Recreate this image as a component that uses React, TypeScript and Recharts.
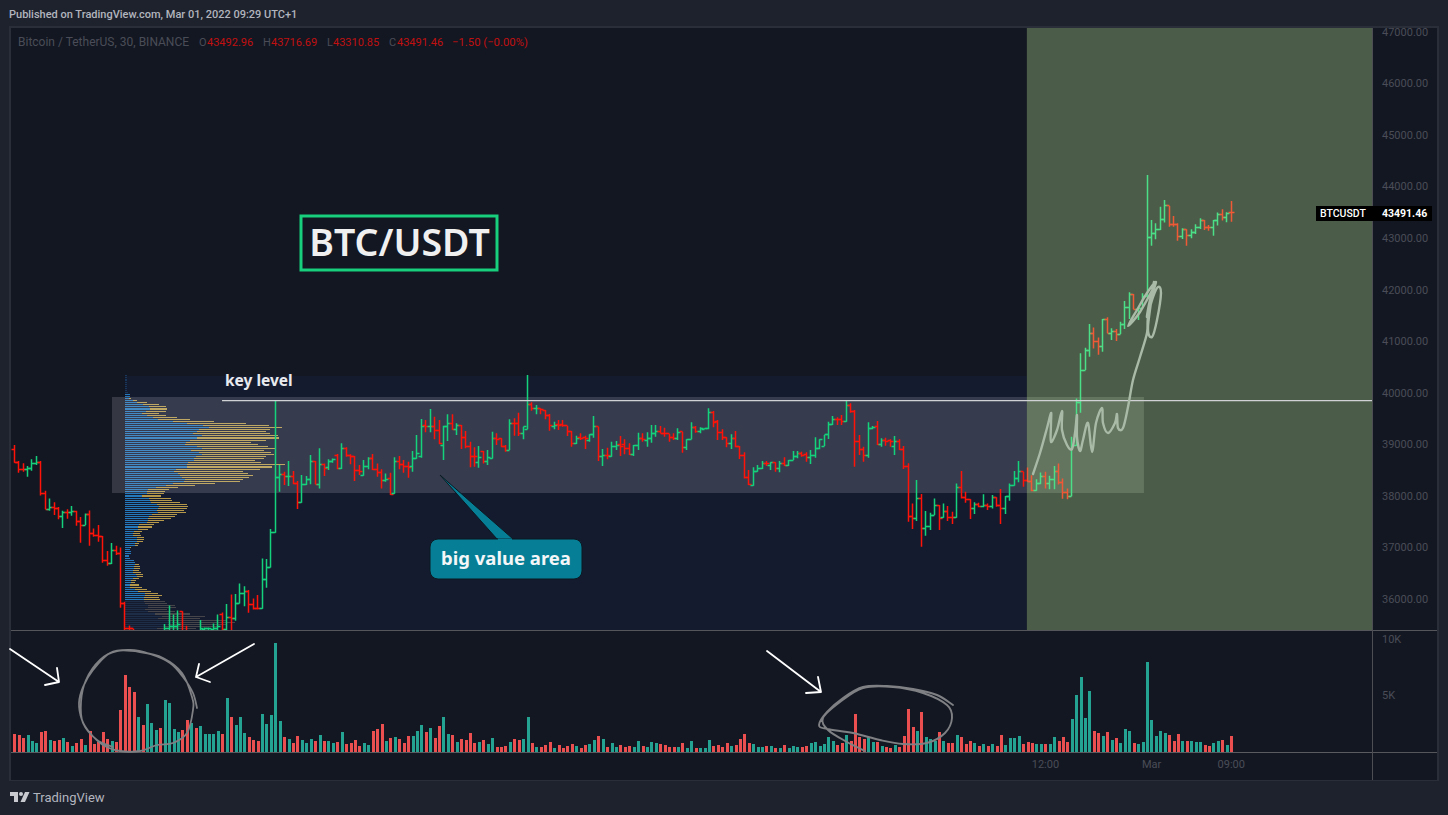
import React from 'react';
import {
  ComposedChart,
  Bar,
  Cell,
  XAxis,
  YAxis,
  ReferenceArea,
  ReferenceLine,
} from 'recharts';

// 30 minute BTCUSDT bars
const opens = [
  38903, 38651, 38515, 38515, 38528, 38632, 38657, 38056, 37739, 37784,
  37752, 37603, 37674, 37674, 37700, 37506, 37435, 37642, 37273, 37228,
  37208, 36742, 36690, 36943, 36885, 35921, 35429, 35420, 35100, 35200,
  35050, 35200, 35300, 35350, 35250, 35420, 35461, 35474, 35752, 35350,
  35300, 35350, 35280, 35405, 35425, 35400, 35430, 35700, 35400, 35642,
  35616, 35914, 36108, 36153, 35895, 35817, 35817, 36386, 36613, 37292,
  38360, 38418, 38373, 38386, 38237, 37868, 38224, 38321, 38677, 38224,
  38612, 38554, 38664, 38793, 38534, 38923, 38793, 38774, 38502, 38405,
  38580, 38728, 38515, 38457, 38295, 38340, 38043, 38664, 38612, 38575,
  38567, 38728, 38761, 39356, 39343, 39343, 39266, 38987, 39343, 39408,
  39291, 39363, 39136, 38961, 38761, 38644, 38858, 38664, 38728, 39104,
  39104, 38955, 38890, 39408, 39408, 39214, 39291, 39764, 39686, 39699,
  39654, 39550, 39343, 39388, 39388, 39356, 39246, 39020, 39129, 39129,
  39084, 39194, 39343, 38761, 38780, 38774, 38968, 39000, 39000, 38923,
  38806, 38987, 39104, 39084, 39117, 39214, 39246, 39214, 39201, 39136,
  39104, 39246, 38942, 39097, 39330, 39246, 39291, 39298, 39621, 39440,
  39233, 39136, 39020, 39117, 38955, 38780, 38353, 38211, 38483, 38535,
  38632, 38599, 38651, 38522, 38632, 38586, 38696, 38761, 38826, 38806,
  38742, 38793, 38923, 38968, 39182, 39376, 39486, 39473, 39440, 39744,
  39628, 39052, 38903, 38793, 39311, 39343, 39000, 39072, 39078, 38968,
  39065, 38903, 38580, 37596, 37564, 37952, 37370, 37402, 37629, 37823,
  37577, 37693, 37583, 37583, 38159, 37972, 37933, 37758, 37842, 37791,
  37810, 37804, 37972, 37810, 37758, 37985, 38198, 38340, 38470, 38306,
  38286, 38105, 38241, 38384, 38241, 38319, 38481, 38254, 38066, 37995,
  38985, 39813, 40441, 40829, 41153, 41004, 40894, 41431, 41153, 41198,
  41140, 41327, 41657, 41897, 41619, 41638, 41864, 43016, 43094, 43158,
  43365, 43624, 43268, 43255, 43029, 43158, 43048, 43107, 43210, 43333,
  43210, 43204, 43333, 43450, 43404, 43492,
];
const highs = [
  38987, 38677, 38632, 38580, 38709, 38774, 38677, 38101, 37952, 37875,
  37784, 37713, 37739, 37803, 37713, 37590, 37661, 37719, 37370, 37435,
  37221, 36930, 37085, 37033, 37001, 35946, 35487, 35420, 35250, 35250,
  35250, 35350, 35380, 35380, 35513, 35875, 35701, 35778, 35765, 35481,
  35390, 35380, 35591, 35448, 35448, 35526, 35701, 35739, 35901, 36089,
  36095, 36302, 36250, 36173, 36011, 36076, 36788, 36775, 37357, 39841,
  38599, 38470, 38677, 38483, 38288, 38405, 38385, 38793, 38677, 38923,
  38631, 38709, 38728, 38813, 39020, 38942, 38806, 38774, 38599, 38696,
  38748, 38813, 38631, 38515, 38437, 38450, 38748, 38774, 38696, 38664,
  38871, 39181, 39492, 39473, 39686, 39537, 39473, 39363, 39583, 39583,
  39408, 39375, 39259, 39052, 38942, 38968, 38871, 38890, 39246, 39214,
  39117, 38987, 39485, 39505, 39615, 39343, 40346, 39815, 39764, 39699,
  39667, 39589, 39440, 39473, 39473, 39356, 39259, 39168, 39214, 39168,
  39194, 39550, 39343, 38910, 38936, 39052, 39065, 39162, 39097, 39020,
  38987, 39227, 39214, 39233, 39376, 39376, 39356, 39324, 39201, 39214,
  39311, 39246, 39097, 39427, 39356, 39330, 39311, 39699, 39647, 39473,
  39291, 39136, 39194, 39259, 38968, 38845, 38502, 38554, 38599, 38677,
  38677, 38651, 38651, 38677, 38748, 38696, 38871, 38871, 38858, 38845,
  38890, 39136, 39097, 39182, 39440, 39550, 39524, 39570, 39841, 39796,
  39667, 39182, 38955, 39427, 39356, 39453, 39117, 39130, 39097, 39162,
  39097, 38968, 38632, 37855, 38308, 38036, 37706, 37674, 37952, 37823,
  37855, 37803, 37693, 38243, 38483, 38082, 37933, 37875, 37868, 38030,
  37855, 38017, 37972, 38133, 37997, 38243, 38483, 38677, 38470, 38552,
  38403, 38325, 38455, 38468, 38390, 38578, 38629, 38338, 38144, 39147,
  39891, 40765, 40875, 41334, 41269, 41075, 41431, 41463, 41250, 41237,
  41379, 41780, 41948, 41916, 41657, 41929, 44226, 43353, 43288, 43611,
  43741, 43624, 43430, 43288, 43191, 43171, 43171, 43268, 43385, 43352,
  43255, 43352, 43495, 43560, 43501, 43721,
];
const lows = [
  38644, 38450, 38470, 38373, 38489, 38599, 38010, 37739, 37713, 37629,
  37545, 37376, 37557, 37616, 37422, 37092, 37435, 37033, 37208, 37111,
  36703, 36645, 36678, 36852, 35830, 35267, 35300, 35000, 35000, 34950,
  35000, 35100, 35200, 35200, 35200, 35280, 35300, 35390, 35300, 35250,
  35200, 35200, 35200, 35350, 35350, 35350, 35380, 35350, 35300, 35300,
  35578, 35914, 35862, 35733, 35798, 35798, 35811, 36218, 36613, 37286,
  38081, 38211, 38191, 38224, 37745, 37868, 38211, 38224, 38224, 38146,
  38386, 38502, 38644, 38515, 38521, 38761, 38612, 38288, 38405, 38392,
  38515, 38502, 38373, 38146, 38275, 38017, 38043, 38515, 38450, 38353,
  38470, 38720, 38741, 39233, 39233, 39097, 39000, 38696, 39065, 39278,
  39181, 38910, 38923, 38554, 38567, 38547, 38631, 38599, 38728, 38987,
  38942, 38858, 38890, 39168, 39162, 39097, 39291, 39654, 39583, 39583,
  39485, 39265, 39291, 39278, 39343, 39162, 38955, 39007, 39084, 38910,
  39052, 39129, 38677, 38580, 38709, 38761, 38890, 38774, 38806, 38793,
  38774, 38890, 39052, 38955, 39033, 39149, 39214, 39149, 39052, 39085,
  39085, 38839, 38890, 39097, 39227, 39214, 39291, 39291, 39330, 39085,
  39085, 38942, 38910, 38942, 38716, 38340, 38211, 38198, 38470, 38522,
  38580, 38502, 38470, 38457, 38580, 38580, 38696, 38729, 38761, 38664,
  38619, 38742, 38903, 38968, 39104, 39376, 39376, 39376, 39440, 39615,
  38567, 38793, 38664, 38742, 39291, 38987, 38955, 38975, 38955, 38793,
  38890, 38522, 37499, 37357, 37512, 37014, 37227, 37338, 37629, 37338,
  37577, 37512, 37454, 37577, 37952, 37868, 37551, 37648, 37778, 37778,
  37726, 37758, 37791, 37454, 37648, 37907, 38198, 38263, 38177, 38274,
  38092, 38099, 38228, 38144, 38131, 38131, 38222, 37944, 37937, 37995,
  38966, 39613, 40441, 40700, 40861, 40739, 40797, 41153, 41023, 41004,
  41140, 41237, 41431, 41619, 41411, 41638, 41864, 42854, 42977, 43158,
  43301, 43223, 43223, 42951, 42984, 42854, 42997, 43081, 43178, 43158,
  43145, 43048, 43243, 43340, 43307, 43320,
];
const closes = [
  38651, 38515, 38510, 38528, 38632, 38657, 38056, 37739, 37784, 37752,
  37603, 37674, 37670, 37700, 37506, 37422, 37642, 37273, 37228, 37208,
  36742, 36690, 36943, 36885, 35921, 35429, 35420, 35100, 35200, 35050,
  35200, 35300, 35350, 35250, 35420, 35461, 35474, 35506, 35350, 35300,
  35350, 35280, 35429, 35425, 35430, 35430, 35461, 35400, 35642, 35616,
  35914, 36108, 36153, 35895, 35817, 35810, 36386, 36613, 37292, 38360,
  38418, 38373, 38386, 38237, 37868, 38224, 38321, 38677, 38224, 38612,
  38534, 38664, 38709, 38534, 38923, 38793, 38774, 38502, 38470, 38580,
  38728, 38515, 38457, 38308, 38321, 38036, 38664, 38612, 38567, 38560,
  38716, 38813, 39343, 39340, 39350, 39266, 39007, 39343, 39408, 39291,
  39375, 39136, 38961, 38761, 38755, 38748, 38664, 38741, 39104, 39100,
  38955, 38890, 39408, 39400, 39214, 39343, 39764, 39699, 39699, 39667,
  39550, 39356, 39375, 39375, 39356, 39259, 39007, 39117, 39117, 39104,
  39194, 39343, 38761, 38780, 38775, 38968, 38987, 38968, 38923, 38806,
  38987, 39104, 39100, 39104, 39214, 39246, 39214, 39201, 39136, 39117,
  39233, 38942, 39097, 39330, 39246, 39311, 39311, 39621, 39421, 39233,
  39136, 39020, 39117, 38968, 38780, 38353, 38230, 38470, 38535, 38632,
  38619, 38651, 38522, 38632, 38599, 38683, 38761, 38826, 38793, 38742,
  38793, 38923, 39085, 39182, 39376, 39486, 39473, 39447, 39744, 39628,
  39052, 38903, 38793, 39311, 39330, 39000, 39072, 39052, 39065, 39065,
  38903, 38580, 37596, 37564, 37952, 37370, 37402, 37616, 37823, 37564,
  37693, 37583, 37578, 38159, 37972, 37933, 37758, 37842, 37791, 37810,
  37804, 37972, 37810, 37758, 37985, 38198, 38340, 38470, 38306, 38286,
  38105, 38241, 38384, 38241, 38319, 38481, 38254, 38066, 37995, 38985,
  39813, 40428, 40829, 41153, 41004, 40894, 41424, 41150, 41198, 41140,
  41327, 41657, 41897, 41619, 41638, 41864, 43016, 43094, 43158, 43365,
  43624, 43268, 43255, 43029, 43158, 43048, 43107, 43210, 43333, 43210,
  43200, 43333, 43450, 43404, 43482, 43491,
];
const volumes = [
  1590, 1530, 1260, 1530, 1000, 820, 1790, 1880, 1090, 1000,
  1090, 1260, 910, 560, 820, 1180, 650, 1880, 740, 910,
  1790, 1180, 1000, 910, 3730, 6820, 5760, 5320, 3120, 2410,
  4260, 2590, 1970, 2150, 4620, 4350, 2060, 1790, 1970, 2850,
  2590, 2150, 2320, 1620, 1620, 1620, 1880, 1620, 4790, 3120,
  2410, 3120, 1710, 1350, 1090, 1000, 3380, 2500, 3290, 9640,
  2760, 1350, 1180, 820, 1440, 1090, 820, 1180, 1000, 1530,
  1000, 1000, 820, 910, 1790, 740, 820, 1090, 560, 820,
  650, 1880, 2060, 2500, 1000, 1260, 1350, 1180, 820, 1440,
  1440, 1880, 2410, 1790, 2150, 1260, 2320, 3120, 1620, 1530,
  910, 1180, 1090, 1710, 820, 910,
  1090, 740, 1260, 470, 470, 560, 910, 1180, 1090, 1180,
  3120, 820, 470, 470, 650, 910, 380, 650, 380, 560,
  740, 560, 380, 650, 740, 1090, 1440, 1180, 470, 820,
  470, 650, 470, 560, 470, 1000, 560, 470, 910, 820,
  740, 650, 470, 470, 470, 820, 380, 1000, 380, 380,
  380, 1090, 560, 650, 470, 820, 560, 650, 1180, 1620,
  820, 740, 470, 470, 560, 560, 380, 380, 650, 380,
  560, 470, 470, 560, 820, 910, 560, 740, 1350, 1000,
  650, 820, 1530, 1000, 3380, 1350, 1180, 1350, 910, 910,
  560, 470, 380, 650, 470, 1440, 3820, 2230, 1880, 3560,
  1350, 1180, 1000, 1790, 1000, 820, 820, 1530,
  1350, 740, 1000, 820, 560, 740, 560, 740, 560, 1530,
  650, 1260, 1260, 1440, 740, 910, 820, 740, 740, 740,
  740, 1350, 1000, 1350, 910, 2940, 5060, 6640, 3030, 5410,
  1880, 1710, 1440, 1790, 1090, 1260, 820, 2060, 1880, 820,
  740, 910, 7970, 2850, 1440, 1880, 1710, 1530, 1000, 1620,
  1000, 1000, 1000, 910, 910, 650, 560, 820, 1000, 1090,
  650, 1440,
];

// volume profile rows, top to bottom, in arbitrary volume units
const profileBuy = [
  5, 5, 5, 5, 5, 5, 7, 7, 10,
  15, 15, 13, 25, 37, 53, 73, 75, 63, 51,
  67, 85, 100, 145, 185, 235, 253, 223, 217, 205,
  230, 217, 195, 183, 180, 217, 230, 198, 222, 230,
  213, 207, 207, 189, 185, 185, 153, 147, 160, 165,
  171, 180, 177, 143, 123, 93, 69, 66, 65, 51,
  72, 75,
  78, 96, 102, 99, 96, 99, 81, 72, 69, 69,
  66, 42, 39, 39, 27, 24, 24, 36, 36, 36,
  30, 30, 15, 15, 18, 18, 12, 15, 27, 30,
  30, 27, 27, 24, 24, 33, 36, 24, 18, 18,
  15, 15, 30, 39, 60, 60, 57, 57,
  57, 60, 70, 70, 60, 70, 90, 110, 100, 130, 140, 130, 120, 95, 115,
];
const profileSell = [
  0, 0, 0, 0, 0, 0, 0, 0, 0,
  0, 0, 5, 11, 29, 49, 50, 51, 60, 51,
  56, 71, 95, 122, 178, 197, 218, 212, 206, 230,
  229, 245, 228, 195, 219, 212, 220, 219, 216, 217,
  210, 210, 183, 219, 295, 256, 252, 207, 209, 219,
  201, 174, 168, 127, 87, 66, 63, 54, 52, 57,
  66, 66,
  87, 90, 87, 87, 81, 84, 75, 78, 69, 48,
  36, 45, 42, 30, 24, 21, 24, 21, 21, 18,
  12, 9, 3, 0, 0, 0, 0, 0, 0, 0,
  12, 18, 18, 18, 24, 21, 18, 18, 15, 12,
  27, 36, 36, 39, 39, 51, 45, 48,
  63, 66, 80, 83, 66, 80, 105, 130, 125, 173, 190, 176, 165, 118, 155,
];

const priceTicks = [36000, 37000, 38000, 39000, 40000, 41000, 42000, 43000, 44000, 45000, 46000, 47000];
const volumeTicks = [5000, 10000];
const timeLabels: Record<number, string> = { 233: '12:00', 257: 'Mar', 275: '09:00' };

const bars = opens.map((o, i) => ({
  i,
  o,
  h: highs[i],
  l: lows[i],
  c: closes[i],
  range: [lows[i], highs[i]],
  volume: volumes[i],
}));
const profile = profileBuy.map((buy, row) => ({ row, buy, sell: profileSell[row] }));

const X_DOMAIN: [number, number] = [-0.79, 306.8];
const PRICE_DOMAIN: [number, number] = [35399, 47076];
const PROFILE_DIM_TOP = 9;
const PROFILE_DIM_BOTTOM = 109;

const UP = '#14d27b';
const DOWN = '#ff1208';
const DIM_TEXT = '#4a4d57';
const UI_FONT = 'Roboto, sans-serif';
const NOTE_FONT = '"Noto Sans", sans-serif';

const OhlcBar = (props: any) => {
  const { x, y, width, height, payload } = props;
  const cx = Math.floor(x + width / 2) + 0.5;
  const perUnit = height / (payload.h - payload.l);
  const at = (v: number) => Math.floor(y + (payload.h - v) * perUnit) + 0.5;
  return (
    <path
      d={`M${cx},${y}V${y + height}M${cx - 3},${at(payload.o)}H${cx}M${cx},${at(payload.c)}H${cx + 3}`}
      stroke={payload.c >= payload.o ? UP : DOWN}
      strokeWidth={1.5}
      fill="none"
    />
  );
};

// smooth pen stroke through hand drawn points
const pen = (pts: number[][]) => {
  let d = `M${pts[0][0]},${pts[0][1]}`;
  for (let i = 0; i < pts.length - 1; i++) {
    const p0 = pts[Math.max(i - 1, 0)];
    const p1 = pts[i];
    const p2 = pts[i + 1];
    const p3 = pts[Math.min(i + 2, pts.length - 1)];
    d += `C${p1[0] + (p2[0] - p0[0]) / 6},${p1[1] + (p2[1] - p0[1]) / 6} ${p2[0] - (p3[0] - p1[0]) / 6},${p2[1] - (p3[1] - p1[1]) / 6} ${p2[0]},${p2[1]}`;
  }
  return d;
};

const circleLeft = [
  [197, 708], [193, 693], [183, 677], [170, 663], [150, 654], [130, 650], [110, 653], [93, 670], [83, 687], [79, 703],
  [82, 720], [90, 733], [103, 745], [120, 751], [140, 751], [157, 745], [173, 743], [187, 733], [193, 710], [192, 697],
  [182, 673], [163, 658], [140, 652], [117, 651], [100, 660], [86, 680], [81, 702], [83, 723], [97, 740], [113, 747],
];
const circleRight = [
  [953, 705], [937, 695], [913, 689], [887, 686], [863, 687], [843, 698], [827, 712], [819, 725], [827, 729], [853, 733],
  [880, 740], [903, 744], [927, 743], [945, 733], [952, 718], [947, 705], [923, 693], [893, 687], [863, 688], [840, 702],
  [823, 718], [828, 730], [847, 742], [865, 751],
];
const scribble = [
  [1033, 474], [1040, 453], [1047, 428], [1051, 413], [1051, 423], [1051, 442], [1057, 430], [1062, 411], [1062, 430], [1067, 445],
  [1072, 449], [1075, 433], [1077, 415], [1077, 437], [1080, 451], [1083, 440], [1088, 423], [1092, 452], [1096, 423], [1102, 408],
  [1103, 423], [1108, 433], [1115, 423], [1117, 414], [1118, 428], [1123, 428], [1128, 407], [1133, 380], [1140, 357], [1147, 333],
  [1148, 317], [1154, 282], [1148, 327], [1152, 337], [1157, 320], [1161, 293], [1158, 287], [1153, 297], [1147, 317], [1150, 300],
  [1156, 282], [1147, 293], [1137, 310], [1128, 326], [1140, 312], [1155, 285],
];

const layer = (left: number, top: number): React.CSSProperties => ({ position: 'absolute', left, top });

const App: React.FC = () => {
  return (
    <div style={{ position: 'absolute', left: 0, top: 0, width: 1448, height: 815, background: '#1e222d', overflow: 'hidden' }}>
      <div style={{ ...layer(9, 26), width: 1430, height: 755, boxSizing: 'border-box', border: '2px solid #2a2e39', background: '#131722' }} />

      {/* price scale and the session background, starts higher so the top label is not cut */}
      <div style={layer(11, 18)}>
        <ComposedChart width={1426} height={612} data={bars} margin={{ top: 10, right: 0, bottom: 0, left: 0 }}>
          <XAxis type="number" dataKey="i" domain={X_DOMAIN} allowDataOverflow hide />
          <YAxis
            orientation="right"
            type="number"
            width={65}
            domain={PRICE_DOMAIN}
            allowDataOverflow
            ticks={priceTicks}
            interval={0}
            axisLine={false}
            tickLine={false}
            tickMargin={4}
            tick={{ fill: DIM_TEXT, fontSize: 11, fontFamily: UI_FONT }}
            tickFormatter={(v: number) => v.toFixed(2)}
          />
          <ReferenceArea x1={24.97} x2={228.8} y1={40326} y2={PRICE_DOMAIN[0]} fill="#141b2f" fillOpacity={1} stroke="none" />
        </ComposedChart>
      </div>

      {/* volume profile, row pitch of 2.07px gives the thicker row every 14 rows */}
      <div style={{ ...layer(125, 374), shapeRendering: 'crispEdges' }}>
        <ComposedChart layout="vertical" width={170} height={258} data={profile} margin={{ top: 0.34, right: 0, bottom: 0.91, left: 0 }} barCategoryGap={0}>
          <XAxis type="number" domain={[0, 510]} hide />
          <YAxis type="category" dataKey="row" hide />
          <Bar dataKey="buy" stackId="p" barSize={1.07} isAnimationActive={false}>
            {profile.map((r) => (
              <Cell key={r.row} fill={r.row < PROFILE_DIM_TOP ? '#17365a' : r.row >= PROFILE_DIM_BOTTOM ? '#1d2c47' : '#2478bc'} />
            ))}
          </Bar>
          <Bar dataKey="sell" stackId="p" barSize={1.07} isAnimationActive={false}>
            {profile.map((r) => (
              <Cell key={r.row} fill={r.row >= PROFILE_DIM_BOTTOM ? '#45454a' : '#b5984a'} />
            ))}
          </Bar>
        </ComposedChart>
      </div>

      {/* value area box, sits above the profile and below the bars */}
      <div style={layer(11, 28)}>
        <ComposedChart width={1361} height={602} data={bars} margin={{ top: 0, right: 0, bottom: 0, left: 0 }}>
          <XAxis type="number" dataKey="i" domain={X_DOMAIN} allowDataOverflow hide />
          <YAxis type="number" domain={PRICE_DOMAIN} allowDataOverflow hide />
          <ReferenceArea x1={22.03} x2={255.26} y1={39918} y2={38056} fill="#ffffff" fillOpacity={0.145} stroke="none" />
        </ComposedChart>
      </div>

      {/* OHLC bars */}
      <div style={layer(11, 28)}>
        <ComposedChart width={1361} height={602} data={bars} margin={{ top: 0, right: 0, bottom: 0, left: 0 }}>
          <XAxis type="number" dataKey="i" domain={X_DOMAIN} allowDataOverflow hide />
          <YAxis type="number" domain={PRICE_DOMAIN} allowDataOverflow hide />
          <Bar dataKey="range" barSize={2} shape={<OhlcBar />} isAnimationActive={false} />
        </ComposedChart>
      </div>

      {/* long position zone and key level */}
      <div style={layer(11, 28)}>
        <ComposedChart width={1361} height={602} data={bars} margin={{ top: 0, right: 0, bottom: 0, left: 0 }}>
          <XAxis type="number" dataKey="i" domain={X_DOMAIN} allowDataOverflow hide />
          <YAxis type="number" domain={PRICE_DOMAIN} allowDataOverflow hide />
          <ReferenceArea x1={228.8} x2={X_DOMAIN[1]} y1={PRICE_DOMAIN[1]} y2={PRICE_DOMAIN[0]} fill="#ccffa2" fillOpacity={0.3} stroke="none" />
          <ReferenceLine
            segment={[{ x: 46.9, y: 39850 }, { x: X_DOMAIN[1], y: 39850 }]}
            stroke="#cfd1d4"
            strokeWidth={1.3}
          />
        </ComposedChart>
      </div>

      {/* volume pane */}
      <div style={{ ...layer(11, 631), width: 1426, height: 149, background: '#131722', shapeRendering: 'crispEdges' }}>
        <ComposedChart width={1426} height={149} data={bars} margin={{ top: 0, right: 0, bottom: 0, left: 0 }}>
          <XAxis
            type="number"
            dataKey="i"
            domain={X_DOMAIN}
            allowDataOverflow
            height={28}
            ticks={[233, 257, 275]}
            interval={0}
            axisLine={{ stroke: '#5a5b60' }}
            tickLine={false}
            tickMargin={2}
            tick={{ fill: DIM_TEXT, fontSize: 11, fontFamily: UI_FONT }}
            tickFormatter={(v: number) => timeLabels[v]}
          />
          <YAxis
            orientation="right"
            type="number"
            width={65}
            domain={[0, 10708]}
            allowDataOverflow
            ticks={volumeTicks}
            interval={0}
            axisLine={false}
            tickLine={false}
            tickMargin={4}
            tick={{ fill: DIM_TEXT, fontSize: 11, fontFamily: UI_FONT }}
            tickFormatter={(v: number) => `${v / 1000}K`}
          />
          <Bar dataKey="volume" barSize={3} isAnimationActive={false}>
            {bars.map((b) => (
              <Cell key={b.i} fill={b.c >= b.o ? '#24a392' : '#ec4f4f'} />
            ))}
          </Bar>
        </ComposedChart>
      </div>

      {/* drawings, labels and chrome */}
      <svg width={1448} height={815} style={layer(0, 0)}>
        <line x1={11} x2={1437} y1={630.5} y2={630.5} stroke="#55565b" strokeWidth={1} />
        <line x1={1372} x2={1437} y1={752.5} y2={752.5} stroke="#55565b" strokeWidth={1} />
        <line x1={1372.5} x2={1372.5} y1={28} y2={780} stroke="#4d4e54" strokeWidth={1} />

        <text x={9} y={18} fill="#b2b5be" fontSize={11} fontWeight={500} fontFamily={UI_FONT}>Published on TradingView.com, Mar 01, 2022 09:29 UTC+1</text>

        <g fontSize={11} fontFamily={UI_FONT}>
          <text x={18} y={46} fill={DIM_TEXT} fontSize={12}>Bitcoin / TetherUS, 30, BINANCE</text>
          <text x={199} y={46} fill={DIM_TEXT}>O</text>
          <text x={207} y={46} fill="#c01010">43492.96</text>
          <text x={263} y={46} fill={DIM_TEXT}>H</text>
          <text x={271} y={46} fill="#c01010">43716.69</text>
          <text x={327} y={46} fill={DIM_TEXT}>L</text>
          <text x={333} y={46} fill="#c01010">43310.85</text>
          <text x={389} y={46} fill={DIM_TEXT}>C</text>
          <text x={397} y={46} fill="#c01010">43491.46</text>
          <text x={452} y={46} fill="#c01010" fontSize={11.3}>−1.50 (−0.00%)</text>
        </g>

        <rect x={301} y={216} width={196} height={54} fill="none" stroke="#17cf7c" strokeWidth={3} />
        <text x={399.5} y={256} textAnchor="middle" fill="#f0f0f0" fontSize={37.5} fontWeight={600} fontFamily={NOTE_FONT}>BTC/USDT</text>

        <text x={225} y={386} fill="#e8eaee" fontSize={15.5} fontWeight={700} fontFamily={NOTE_FONT}>key level</text>

        <path d="M440,475L497,539H513Z" fill="#067f96" stroke="#0b1a22" strokeWidth={1} />
        <rect x={430} y={539} width={152} height={40} rx={8} fill="#067f96" stroke="#0b1a22" strokeWidth={1} />
        <path d="M498,539.5H512" stroke="#067f96" strokeWidth={2} />
        <text x={506} y={565} textAnchor="middle" fill="#f4f6f8" fontSize={18.5} fontWeight={700} fontFamily={NOTE_FONT}>big value area</text>

        <rect x={1316} y={206} width={116} height={15} fill="#000000" />
        <text x={1320} y={217} fill="#ffffff" fontSize={10.5} fontWeight={500} fontFamily={UI_FONT}>BTCUSDT</text>
        <text x={1382} y={217} fill="#ffffff" fontSize={10.5} fontWeight={700} fontFamily={UI_FONT}>43491.46</text>

        <path d={pen(scribble)} fill="none" stroke="#a9bba6" strokeWidth={2.4} strokeLinecap="round" strokeLinejoin="round" />
        <path d={pen(circleLeft)} fill="none" stroke="#7f8083" strokeWidth={1.8} strokeLinecap="round" />
        <path d={pen(circleRight)} fill="none" stroke="#7f8083" strokeWidth={1.9} strokeLinecap="round" />

        <g fill="none" stroke="#ffffff" strokeWidth={1.8} strokeLinecap="round" strokeLinejoin="round">
          <path d="M10,649L59,682M45,685L59,682L57,668" />
          <path d="M254,644L196,677M199,664L196,677L210,682" />
          <path d="M767,651L821,692M818,677L821,692L806,693" />
        </g>

        <g fill="#c8cad0">
          <path d="M10,792H18V802H14V796H10Z" />
          <circle cx={21} cy={794} r={2} />
          <path d="M25,792H29.5L25,802H20.5Z" />
        </g>
        <text x={33} y={802} fill="#b2b5be" fontSize={13} fontFamily={UI_FONT}>TradingView</text>
      </svg>
    </div>
  );
};

export default App;
